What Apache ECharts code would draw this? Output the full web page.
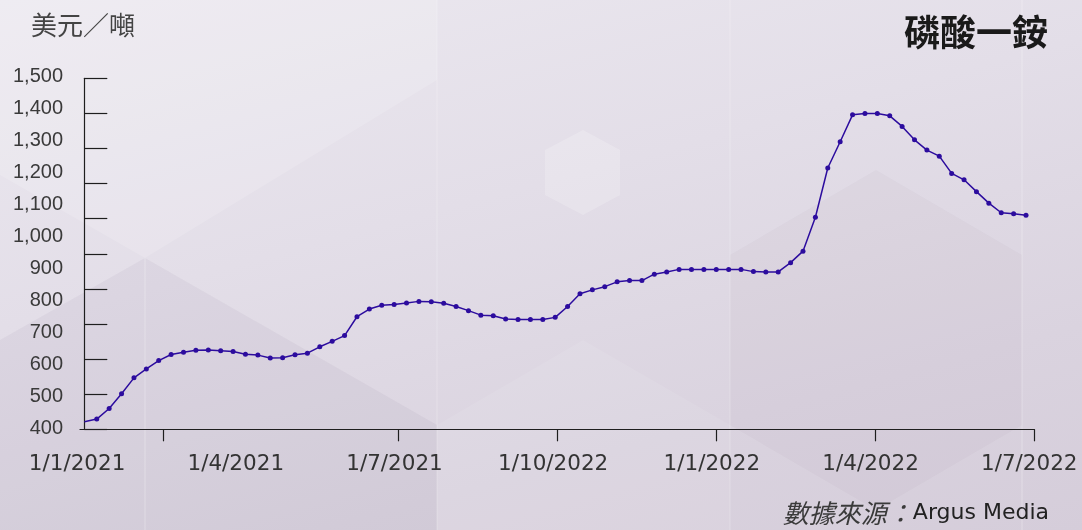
<!DOCTYPE html>
<html>
<head>
<meta charset="utf-8">
<script src="https://cdn.jsdelivr.net/npm/echarts@6/dist/echarts.min.js"></script>
<style>
html,body{margin:0;padding:0;width:1082px;height:530px;overflow:hidden;}
body{
  background:
    url("data:image/svg+xml;utf8,<svg xmlns='http://www.w3.org/2000/svg' width='1082' height='530'><polygon points='145,258 437,425 437,530 0,530 0,340' fill='rgb(80,50,100)' fill-opacity='0.05'/><polygon points='437,425 583,340 730,425 730,530 437,530' fill='rgb(255,255,255)' fill-opacity='0.08'/><polygon points='583,130 620,150 620,195 583,215 545,195 545,150' fill='rgb(255,255,255)' fill-opacity='0.2'/><polygon points='730,255 876,170 1022,255 1022,425 876,510 730,425' fill='rgb(80,50,100)' fill-opacity='0.03'/><polygon points='0,0 437,0 437,80 145,258 0,175' fill='rgb(255,255,255)' fill-opacity='0.15'/><line x1='145' y1='258' x2='145' y2='530' stroke='white' stroke-opacity='0.15' stroke-width='2'/><line x1='437' y1='0' x2='437' y2='530' stroke='white' stroke-opacity='0.12' stroke-width='2'/><line x1='730' y1='0' x2='730' y2='530' stroke='white' stroke-opacity='0.12' stroke-width='2'/><line x1='1022' y1='0' x2='1022' y2='530' stroke='white' stroke-opacity='0.15' stroke-width='2'/></svg>"),
    linear-gradient(165deg, #ece9f0 0%, #e3dee8 40%, #dad3df 75%, #d5cdda 100%);
}
#chart{width:1082px;height:530px;}
</style>
</head>
<body>
<div id="chart"></div>
<script>
// ---- data ----
const unitText = '美元／噸';
const titleText = '磷酸一銨';
const sourceCJK = '數據來源';
const sourceLatin = 'Argus Media';
const xTickLabels = ['1/1/2021', '1/4/2021', '1/7/2021', '1/10/2022', '1/1/2022', '1/4/2022', '1/7/2022'];
const yMin = 400;
const yMax = 1500;
const yStep = 100;
// weekly prices (USD/t)
const prices = [
  422, 430, 463, 509, 559, 587, 613, 632, 639, 645,
  646, 644, 641, 633, 630, 621, 622, 631, 636, 656,
  673, 691, 750, 774, 786, 788, 793, 798, 797, 792,
  782, 769, 755, 753, 743, 741, 741, 741, 748, 782,
  822, 834, 844, 859, 863, 863, 883, 890, 898, 898,
  898, 898, 898, 898, 891, 890, 890, 919, 955, 1061,
  1215, 1297, 1381, 1385, 1385, 1378, 1345, 1303, 1271, 1252,
  1198, 1178, 1141, 1105, 1075, 1072, 1067
];

// ---- layout (pixels -> axis units) ----
const px0 = 84.3;      // pixel of first point
const pxStep = 12.39;  // pixels per week
const toU = p => (p - px0) / pxStep;
const labelPx = xTickLabels.map((_, k) => 77 + k * 158.7);
const labelVals = labelPx.map(toU);
const tickVals = [163, 398, 557.5, 716, 875, 1034].map(toU);

const lineColor = '#2c0c9e';
const chart = echarts.init(document.getElementById('chart'), null, {renderer: 'canvas'});

const seriesData = prices.map((v, i) => i === 0 ? {value: [i, v], symbol: 'none'} : [i, v]);

chart.setOption({
  animation: false,
  backgroundColor: 'transparent',
  grid: [
    {left: 72, top: 76.8, width: 966.4, height: 351.9},
    {left: 80, top: 78.3, width: 954.4, height: 351}
  ],
  xAxis: [
    {
      type: 'value', gridIndex: 0, min: -1, max: 77,
      axisLine: {show: false}, axisTick: {show: false}, splitLine: {show: false},
      axisLabel: {
        customValues: labelVals,
        margin: 25,
        fontFamily: 'DejaVu Sans', fontSize: 21.5, color: '#333333',
        formatter: (v) => {
          let best = 0, bd = 1e9;
          labelVals.forEach((lv, k) => { const d = Math.abs(lv - v); if (d < bd) { bd = d; best = k; } });
          return xTickLabels[best];
        }
      }
    },
    {
      type: 'value', gridIndex: 1, min: toU(80), max: toU(1034.4),
      axisLine: {show: true, lineStyle: {color: '#1e1e1e', width: 1.2}},
      axisTick: {show: true, customValues: tickVals, length: 12, lineStyle: {color: '#1e1e1e', width: 1.2}},
      axisLabel: {show: false},
      splitLine: {show: false}
    }
  ],
  yAxis: [
    {
      type: 'value', gridIndex: 0, min: yMin, max: yMax, interval: yStep,
      axisLine: {show: false}, axisTick: {show: false}, splitLine: {show: false},
      axisLabel: {
        margin: 9,
        fontFamily: 'Liberation Sans', fontSize: 20, color: '#3a3a3a',
        formatter: v => v.toLocaleString('en-US')
      }
    },
    {
      type: 'value', gridIndex: 1, min: 500, max: 1500, interval: 100,
      axisLine: {show: true, lineStyle: {color: '#1e1e1e', width: 1.2}},
      axisTick: {show: true, inside: true, length: 23, lineStyle: {color: '#1e1e1e', width: 1.2}},
      axisLabel: {show: false},
      splitLine: {show: false}
    }
  ],
  series: [{
    type: 'line',
    xAxisIndex: 0, yAxisIndex: 0,
    data: seriesData,
    symbol: 'circle', symbolSize: 5,
    lineStyle: {color: lineColor, width: 1.5},
    itemStyle: {color: lineColor},
    z: 5
  }],
  graphic: [
    {
      type: 'text', left: 31, top: 12,
      style: {text: unitText, fontFamily: 'Noto Sans CJK TC', fontSize: 26, fill: '#444444'}
    },
    {
      type: 'text', right: 34, top: 14,
      style: {text: titleText, fontFamily: 'Noto Sans CJK TC', fontWeight: 'bold', fontSize: 36, fill: '#1a1a1a'}
    },
    {
      type: 'text', right: 33, top: 500,
      style: {
        text: '{c|' + sourceCJK + '：}{l|' + sourceLatin + '}',
        rich: {
          c: {fontFamily: 'Noto Sans CJK TC', fontStyle: 'italic', fontSize: 26, fill: '#3a3a3a', color: '#3a3a3a'},
          l: {fontFamily: 'DejaVu Sans', fontSize: 22, fill: '#222222', color: '#222222'}
        }
      }
    }
  ]
});
</script>
</body>
</html>
